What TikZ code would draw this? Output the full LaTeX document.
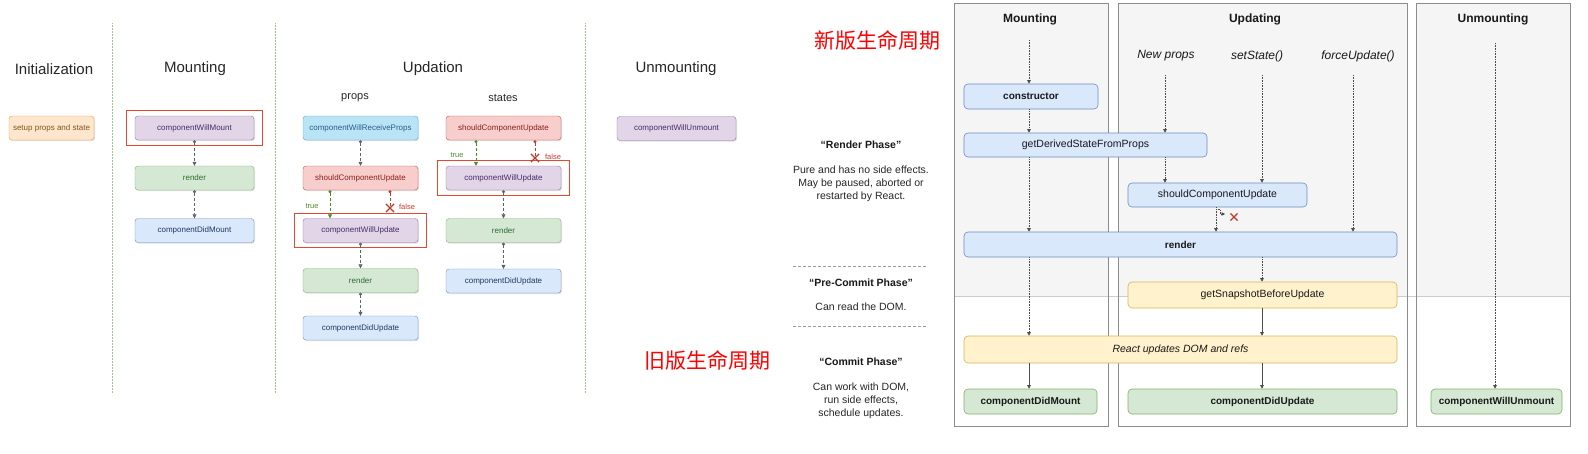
\documentclass[tikz,border=0pt]{standalone}
\usepackage{fontspec}
\setmainfont{Liberation Sans}
\newfontfamily\cjkfont{Noto Sans CJK SC}
\usetikzlibrary{arrows.meta,shapes.misc,fit,shadows}

\definecolor{orangefill}{HTML}{FFE6CC}
\definecolor{orangedraw}{HTML}{D7A64A}
\definecolor{orangetext}{HTML}{7A5A20}
\definecolor{purplefill}{HTML}{E1D5E7}
\definecolor{purpledraw}{HTML}{9673A6}
\definecolor{purpletext}{HTML}{4B2A6B}
\definecolor{greenfill}{HTML}{D5E8D4}
\definecolor{greendraw}{HTML}{82B366}
\definecolor{greentext}{HTML}{2E6B2E}
\definecolor{bluefill}{HTML}{DAE8FC}
\definecolor{bluedraw}{HTML}{6C8EBF}
\definecolor{bluetext}{HTML}{1F3A60}
\definecolor{cyanfill}{HTML}{B8E4F6}
\definecolor{cyandraw}{HTML}{5FA8C8}
\definecolor{cyantext}{HTML}{2A5D8A}
\definecolor{redfill}{HTML}{F8CECC}
\definecolor{reddraw}{HTML}{B85450}
\definecolor{redtext}{HTML}{8B2020}
\definecolor{yellowfill}{HTML}{FFF2CC}
\definecolor{yellowdraw}{HTML}{D6B656}
\definecolor{truegreen}{HTML}{4D8A2A}
\definecolor{falsered}{HTML}{C0392B}
\definecolor{highlight}{HTML}{E5482F}
\definecolor{linkgrey}{HTML}{5A6472}
\definecolor{panelfill}{HTML}{F5F5F5}

\begin{document}
\begin{tikzpicture}[x=1pt,y=-1pt]

	\tikzstyle old box=[draw, rounded corners=3pt, minimum height=24pt, inner sep=0pt, font=\fontsize{8}{9}\selectfont, drop shadow={shadow xshift=1pt, shadow yshift=-1.2pt, opacity=.25}];
	\tikzstyle orange box=[fill=orangefill, draw=orangedraw, text=orangetext];
	\tikzstyle purple box=[fill=purplefill, draw=purpledraw, text=purpletext];
	\tikzstyle green box=[fill=greenfill, draw=greendraw, text=greentext];
	\tikzstyle blue box=[fill=bluefill, draw=bluedraw, text=bluetext];
	\tikzstyle cyan box=[fill=cyanfill, draw=cyandraw, text=cyantext];
	\tikzstyle red box=[fill=redfill, draw=reddraw, text=redtext];
	\tikzstyle old link=[densely dashed, line width=.5pt, draw=linkgrey];
	\tikzstyle old arrow=[old link, {Circle[length=3pt]}-{Triangle[length=4pt,width=4pt]}];
	\tikzstyle old stop=[old link, {Circle[length=3pt]}-];
	\tikzstyle no way=[cross out, draw=falsered, line width=1.2pt, minimum size=7pt, inner sep=0pt];
	\tikzstyle highlight box=[draw=highlight, line width=1pt, inner xsep=8.5pt, inner ysep=5pt];
	\tikzstyle stage line=[densely dotted, draw=greendraw!75, line width=.5pt];
	\tikzstyle stage title=[text=black!85, font=\fontsize{15}{18}\selectfont];
	\tikzstyle sub title=[text=black!85, font=\fontsize{11}{13}\selectfont];
	\tikzstyle branch label=[font=\fontsize{7.5}{9}\selectfont];

	\tikzstyle new box=[draw, rounded corners=4pt, minimum height=25pt, inner sep=0pt, line width=.6pt, text=black!90, font=\fontsize{10.5}{12}\selectfont];
	\tikzstyle new arrow=[densely dotted, line width=.6pt, draw=black!70, -{Triangle[length=3.5pt,width=3.5pt]}];
	\tikzstyle commit arrow=[line width=.6pt, draw=black!70, -{Triangle[length=3.5pt,width=3.5pt]}];
	\tikzstyle panel=[draw=black!45, line width=.8pt];
	\tikzstyle panel title=[text=black!90, font=\bfseries\fontsize{12}{14}\selectfont];
	\tikzstyle input label=[text=black!90, font=\itshape\fontsize{12}{14}\selectfont];
	\tikzstyle phase title=[text=black!90, font=\bfseries\fontsize{10.5}{12}\selectfont];
	\tikzstyle phase text=[text=black!85, align=center, font=\fontsize{10.5}{13}\selectfont];
	\tikzstyle phase line=[densely dashed, draw=black!40, line width=.5pt];
	\tikzstyle version label=[text=red, font=\cjkfont\fontsize{21}{24}\selectfont];

	\useasboundingbox (0,0) rectangle (1588,453);

	% old lifecycle
	\foreach \x in {112,275,585}
		\draw[stage line] (\x,23) -- (\x,393);

	\node[stage title] (inittitle) at (54,69) {Initialization};
	\node[stage title] (mounttitle) at (195,69) {Mounting};
	\node[stage title] (updtitle) at (433,69) {Updation};
	\node[stage title] (unmounttitle) at (676,69) {Unmounting};
	\node[sub title] (propstitle) at (355,98) {props};
	\node[sub title] (statestitle) at (503,98) {states};

	\node[old box, orange box, minimum width=85pt] (setup) at (51.5,128) {setup props and state};

	\node[old box, purple box, minimum width=119pt] (mwill) at (194.5,128) {componentWillMount};
	\node[old box, green box, minimum width=119pt] (mrender) at (194.5,178) {render};
	\node[old box, blue box, minimum width=119pt] (mdid) at (194.5,230.5) {componentDidMount};

	\node[old box, cyan box, minimum width=115pt] (preceive) at (360.5,128) {componentWillReceiveProps};
	\node[old box, red box, minimum width=115pt] (pshould) at (360.5,178) {shouldComponentUpdate};
	\node[old box, purple box, minimum width=115pt] (pwill) at (360.5,230.5) {componentWillUpdate};
	\node[old box, green box, minimum width=115pt] (prender) at (360.5,280.5) {render};
	\node[old box, blue box, minimum width=115pt] (pdid) at (360.5,328) {componentDidUpdate};

	\node[old box, red box, minimum width=115pt] (sshould) at (503.5,128) {shouldComponentUpdate};
	\node[old box, purple box, minimum width=115pt] (swill) at (503.5,178) {componentWillUpdate};
	\node[old box, green box, minimum width=115pt] (srender) at (503.5,230.5) {render};
	\node[old box, blue box, minimum width=115pt] (sdid) at (503.5,281) {componentDidUpdate};

	\node[old box, purple box, minimum width=119pt] (uwill) at (676.5,128.5) {componentWillUnmount};

	\node[highlight box, fit=(mwill)] (hmwill) {};
	\node[highlight box, fit=(pwill)] (hpwill) {};
	\node[highlight box, fit=(swill)] (hswill) {};

	\draw[old arrow] (mwill) -- (mrender);
	\draw[old arrow] (mrender) -- (mdid);
	\draw[old arrow] (preceive) -- (pshould);
	\draw[old arrow] (pwill) -- (prender);
	\draw[old arrow] (prender) -- (pdid);
	\draw[old arrow] (swill) -- (srender);
	\draw[old arrow] (srender) -- (sdid);

	\draw[old arrow, draw=truegreen] ([xshift=-30.5pt]pshould.south) -- ([xshift=-30.5pt]pwill.north);
	\node[branch label, text=truegreen] (ptrue) at (312,206) {true};
	\node[no way] (pno) at (390,208) {};
	\draw[old stop, draw=falsered] ([xshift=29.5pt]pshould.south) -- (pno.center);
	\node[branch label, text=falsered] (pfalse) at (407,207) {false};

	\draw[old arrow, draw=truegreen] ([xshift=-27.5pt]sshould.south) -- ([xshift=-27.5pt]swill.north);
	\node[branch label, text=truegreen] (strue) at (457,155) {true};
	\node[no way] (sno) at (535,158) {};
	\draw[old stop, draw=falsered] ([xshift=31.5pt]sshould.south) -- (sno.center);
	\node[branch label, text=falsered] (sfalse) at (553,157) {false};

	\node[version label] (oldtitle) at (707,360) {旧版生命周期};

	% new lifecycle
	\node[version label] (newtitle) at (877,40) {新版生命周期};

	\node[phase title] (rphase) at (861,145) {“Render Phase”};
	\node[phase text] (rtext) at (861,184) {Pure and has no side effects.\\May be paused, aborted or\\restarted by React.};
	\draw[phase line] (793,266) -- (926,266);
	\node[phase title] (pcphase) at (861,283) {“Pre-Commit Phase”};
	\node[phase text] (pctext) at (861,307) {Can read the DOM.};
	\draw[phase line] (793,326) -- (926,326);
	\node[phase title] (cphase) at (861,362) {“Commit Phase”};
	\node[phase text] (ctext) at (861,401) {Can work with DOM,\\run side effects,\\schedule updates.};

	\fill[panelfill] (954,3) rectangle (1108,296);
	\fill[panelfill] (1118,3) rectangle (1407,296);
	\fill[panelfill] (1416,3) rectangle (1570,296);
	\draw[draw=black!20, line width=.8pt] (954,296) -- (1570,296);
	\draw[panel] (954,3) rectangle (1108,426);
	\draw[panel] (1118,3) rectangle (1407,426);
	\draw[panel] (1416,3) rectangle (1570,426);

	\node[panel title] (nmount) at (1030,19) {Mounting};
	\node[panel title] (nupdate) at (1255,19) {Updating};
	\node[panel title] (nunmount) at (1493,19) {Unmounting};

	\node[input label] (newprops) at (1166,56) {New props};
	\node[input label] (setstate) at (1257,56) {setState()};
	\node[input label] (forceupd) at (1358,56) {forceUpdate()};

	\node[new box, fill=bluefill, draw=bluedraw, minimum width=134pt, font=\bfseries\fontsize{10}{12}\selectfont] (ctor) at (1031,96.5) {constructor};
	\node[new box, fill=bluefill, draw=bluedraw, minimum width=243pt, minimum height=24pt] (gdsfp) at (1085.5,145) {getDerivedStateFromProps};
	\node[new box, fill=bluefill, draw=bluedraw, minimum width=179pt, minimum height=24pt] (scu) at (1217.5,195) {shouldComponentUpdate};
	\node[new box, fill=bluefill, draw=bluedraw, minimum width=433pt, font=\bfseries\fontsize{10}{12}\selectfont] (rnd) at (1180.5,244.5) {render};
	\node[new box, fill=yellowfill, draw=yellowdraw, minimum width=269pt, minimum height=26pt] (gsbu) at (1262.5,295) {getSnapshotBeforeUpdate};
	\node[new box, fill=yellowfill, draw=yellowdraw, minimum width=433pt, minimum height=27pt, font=\itshape\fontsize{10.5}{12}\selectfont] (rud) at (1180.5,349.5) {React updates DOM and refs};
	\node[new box, fill=greenfill, draw=greendraw, minimum width=133pt, font=\bfseries\fontsize{10}{12}\selectfont] (cdm) at (1030.5,401.5) {componentDidMount};
	\node[new box, fill=greenfill, draw=greendraw, minimum width=269pt, font=\bfseries\fontsize{10}{12}\selectfont] (cdu) at (1262.5,401.5) {componentDidUpdate};
	\node[new box, fill=greenfill, draw=greendraw, minimum width=131pt, font=\bfseries\fontsize{10}{12}\selectfont] (cwu) at (1496.5,401.5) {componentWillUnmount};

	\coordinate (mountin) at (1029,40);
	\coordinate (propsin) at (1165,75);
	\coordinate (statein) at (1262,75);
	\coordinate (forcein) at (1353,75);
	\coordinate (unmountin) at (1495,43);
	\coordinate (skipto) at (1225,214);

	\draw[new arrow] (mountin) -- (mountin |- ctor.north);
	\draw[new arrow] (mountin |- ctor.south) -- (mountin |- gdsfp.north);
	\draw[new arrow] (mountin |- gdsfp.south) -- (mountin |- rnd.north);
	\draw[new arrow] (mountin |- rnd.south) -- (mountin |- rud.north);
	\draw[commit arrow] (mountin |- rud.south) -- (mountin |- cdm.north);

	\draw[new arrow] (propsin) -- (propsin |- gdsfp.north);
	\draw[new arrow] (propsin |- gdsfp.south) -- (propsin |- scu.north);
	\draw[new arrow] (statein) -- (statein |- scu.north);
	\draw[new arrow] (forcein) -- (forcein |- rnd.north);
	\draw[new arrow] ([xshift=-1.5pt]scu.south) -- ([xshift=-1.5pt]scu.south |- rnd.north);
	\draw[new arrow] ([shift={(-1.5pt,-2pt)}]scu.south) -| ([xshift=-5pt]skipto) -- (skipto);
	\node[no way, minimum size=6pt] (scuno) at (1234,217) {};
	\draw[new arrow] (statein |- rnd.south) -- (statein |- gsbu.north);
	\draw[commit arrow] (statein |- gsbu.south) -- (statein |- rud.north);
	\draw[commit arrow] (statein |- rud.south) -- (statein |- cdu.north);
	\draw[new arrow] (unmountin) -- (unmountin |- cwu.north);

\end{tikzpicture}
\end{document}
